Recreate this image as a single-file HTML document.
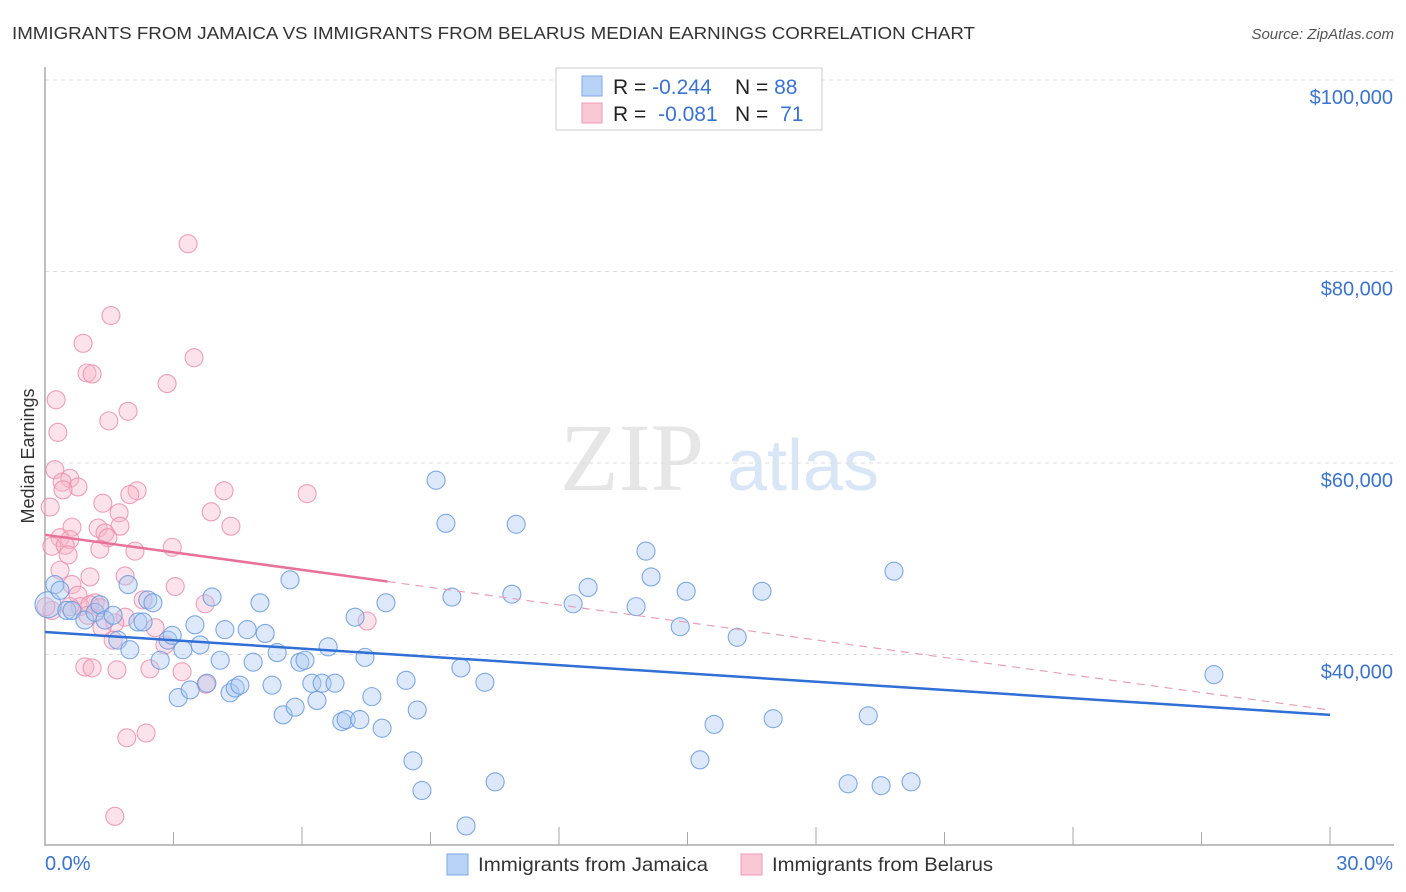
<!DOCTYPE html>
<html><head><meta charset="utf-8">
<style>
html,body{margin:0;padding:0;background:#fff;}
svg{display:block;font-family:"Liberation Sans",sans-serif;}
</style></head>
<body>
<svg id="chart" width="1406" height="892" viewBox="0 0 1406 892" xmlns="http://www.w3.org/2000/svg">
<text x="12" y="39" font-size="17.5" fill="#333" textLength="963" lengthAdjust="spacingAndGlyphs">IMMIGRANTS FROM JAMAICA VS IMMIGRANTS FROM BELARUS MEDIAN EARNINGS CORRELATION CHART</text>
<text x="1394" y="39" font-size="15" fill="#555" font-style="italic" text-anchor="end">Source: ZipAtlas.com</text>
<g>
<text x="632" y="490" font-size="96" font-family="Liberation Serif, serif" fill="#e6e6e6" text-anchor="middle">ZIP</text>
<text x="803" y="490" font-size="72" fill="#d8e6f6" text-anchor="middle">atlas</text>
</g>
<g id="grid"></g>
<g id="axes"></g>
<text transform="translate(34,456) rotate(-90)" font-size="18" fill="#333" text-anchor="middle">Median Earnings</text>
<g id="marks"></g>
<g id="lines"></g>
<g>
<rect x="556" y="68" width="266" height="62" fill="#fff" stroke="#ccc"/>
<rect x="582" y="76" width="20" height="20" fill="#b9d3f6" stroke="#7fa8e6"/>
<rect x="582" y="103" width="20" height="20" fill="#f9c7d6" stroke="#ee9bb6"/>
<text x="613" y="94" font-size="21" fill="#222">R = <tspan fill="#3b73d1">-0.244</tspan><tspan x="735">N = </tspan><tspan fill="#3b73d1">88</tspan></text>
<text x="613" y="121" font-size="21" fill="#222">R = <tspan fill="#3b73d1" dx="6">-0.081</tspan><tspan x="735">N = </tspan><tspan fill="#3b73d1" dx="6">71</tspan></text>
</g>
<g>
<rect x="447" y="854" width="21" height="21" fill="#b9d3f6" stroke="#7fa8e6"/>
<text x="478" y="871" font-size="19.5" fill="#333" textLength="230" lengthAdjust="spacingAndGlyphs">Immigrants from Jamaica</text>
<rect x="741" y="854" width="21" height="21" fill="#f9c7d6" stroke="#ee9bb6"/>
<text x="772" y="871" font-size="19.5" fill="#333" textLength="221" lengthAdjust="spacingAndGlyphs">Immigrants from Belarus</text>
</g>
</svg>
<script>
const yTicks=[100000,80000,60000,40000];
const yTickLabels=["$100,000","$80,000","$60,000","$40,000"];
const xTicks=[0,3,6,9,12,15,18,21,24,27,30];
const xEndLabels=["0.0%","30.0%"];
const jamX=[0.07,0.23,0.35,0.51,0.63,0.93,1.17,1.28,1.40,1.59,1.70,1.94,1.98,2.17,2.29,2.40,2.52,2.69,2.87,2.97,3.11,3.22,3.39,3.50,3.62,3.78,3.90,4.09,4.20,4.32,4.44,4.55,4.72,4.86,5.02,5.14,5.30,5.42,5.56,5.72,5.84,5.95,6.07,6.23,6.35,6.47,6.61,6.77,6.93,7.03,7.24,7.35,7.47,7.63,7.87,7.96,8.43,8.59,8.69,8.80,9.13,9.36,9.50,9.71,9.83,10.27,10.51,10.90,11.00,12.33,12.68,13.80,14.03,14.15,14.83,14.97,15.29,15.62,16.16,16.74,17.00,18.75,19.22,19.52,19.82,20.22,27.29];
const jamY=[45.2,47.3,46.7,44.6,44.6,43.6,44.4,45.2,43.6,44.1,41.5,47.3,40.5,43.4,43.4,45.7,45.4,39.4,41.5,42.0,35.5,40.5,36.3,43.1,41.0,37.0,46.0,39.4,42.6,36.0,36.5,36.8,42.6,39.2,45.4,42.2,36.8,40.2,33.7,47.8,34.5,39.2,39.4,37.0,35.2,37.0,40.8,37.0,33.0,33.2,43.9,33.2,39.7,35.6,32.3,45.4,37.3,28.9,34.2,25.8,58.2,53.7,46.0,38.6,22.1,37.1,26.7,46.3,53.6,45.3,47.0,45.0,50.8,48.1,42.9,46.6,29.0,32.7,41.8,46.6,33.3,26.5,33.6,26.3,48.7,26.7,37.9];
const belX=[3.34,1.54,0.89,3.48,0.98,1.10,2.85,0.26,1.94,1.49,0.30,0.23,0.58,0.40,0.77,2.15,4.18,6.12,1.98,1.35,0.42,3.88,1.73,0.12,4.34,0.63,1.24,1.75,1.40,0.35,0.58,1.47,0.16,0.47,1.28,2.97,2.10,0.54,1.05,1.87,0.63,3.04,0.77,2.29,1.17,3.74,0.82,1.05,1.28,1.00,1.87,1.63,2.57,1.33,7.52,2.80,1.59,0.93,1.10,2.45,1.68,3.20,3.76,1.91,2.36,1.63,0.58,0.35,0.16,0.02];
const belY=[82.9,75.4,72.5,71.0,69.4,69.3,68.3,66.6,65.4,64.4,63.2,59.3,58.4,58.0,57.5,57.1,57.1,56.8,56.7,55.8,57.2,54.9,54.8,55.4,53.4,53.3,53.2,53.4,52.7,52.2,52.0,52.2,51.3,51.4,51.0,51.2,50.8,50.4,48.1,48.2,47.3,47.1,46.2,45.7,45.4,45.3,45.0,45.2,44.9,44.1,43.9,43.3,42.8,42.8,43.5,41.0,41.5,38.7,38.6,38.5,38.4,38.2,36.9,31.3,31.8,23.1,45.0,48.8,44.6,45.0];
const jamTrend=[42.35,33.7];
const belTrend=[52.5,34.2];
const belSolidEnd=[8.0];

const NS="http://www.w3.org/2000/svg";
const X0=45,X1=1330,Y100=80,PX20K=191.5;
function sx(p){return X0+(p/30)*(X1-X0);}
function sy(v){return Y100+(100000-v)/20000*PX20K;}
function mk(tag,attrs,parent){const e=document.createElementNS(NS,tag);for(const k in attrs)e.setAttribute(k,attrs[k]);parent.appendChild(e);return e;}
const grid=document.getElementById('grid'),axes=document.getElementById('axes'),marks=document.getElementById('marks'),lines=document.getElementById('lines');
yTicks.forEach((v,i)=>{
  const l=mk('line',{x1:45,x2:1394,y1:sy(v),y2:sy(v),stroke:'#ddd','stroke-dasharray':'4,4'},grid);
  
  
  const t=mk('text',{x:1393,y:sy(v)+24,'font-size':20,fill:'#3b73d1','text-anchor':'end'},axes);
  t.textContent=yTickLabels[i];
  
  
});
const ya=mk('line',{x1:45,x2:45,y1:67,y2:846,stroke:'#aaa','stroke-width':1.5},axes);


const xa=mk('line',{x1:45,x2:1394,y1:845,y2:845,stroke:'#aaa','stroke-width':1.5},axes);


xTicks.forEach((p,i)=>{
  const tk=mk('line',{x1:sx(p),x2:sx(p),y1:(i%2==0?827:832),y2:845,stroke:'#aaa'},axes);
  
  
});
const xl0=mk('text',{x:45,y:870,'font-size':20,fill:'#3b73d1'},axes);xl0.textContent=xEndLabels[0];


const xl1=mk('text',{x:1393,y:870,'font-size':20,fill:'#3b73d1','text-anchor':'end'},axes);xl1.textContent=xEndLabels[1];


function pts(xs,ys,fill,stroke,name){
  xs.forEach((x,i)=>{
    const c=mk('circle',{cx:sx(x),cy:sy(ys[i]*1000),r:(i===0&&name==='jamaica-point')?13:9,fill:fill,'fill-opacity':0.4,stroke:stroke,'stroke-width':1.1,'stroke-opacity':0.85},marks);
    
    
  });
}
pts(belX,belY,'#f7b7cb','#ea8fae','belarus-point');
pts(jamX,jamY,'#aac8f2','#6a9ade','jamaica-point');
const jl=mk('line',{x1:sx(0),y1:sy(jamTrend[0]*1000),x2:sx(30),y2:sy(jamTrend[1]*1000),stroke:'#2f6fd6','stroke-width':2.5},lines);


const bAt=p=>belTrend[0]+(belTrend[1]-belTrend[0])*p/30;
const bl=mk('line',{x1:sx(0),y1:sy(bAt(0)*1000),x2:sx(belSolidEnd[0]),y2:sy(bAt(belSolidEnd[0])*1000),stroke:'#e8719a','stroke-width':2.5},lines);


const bd=mk('line',{x1:sx(belSolidEnd[0]),y1:sy(bAt(belSolidEnd[0])*1000),x2:sx(30),y2:sy(bAt(30)*1000),stroke:'#e8a0b8','stroke-width':1.2,'stroke-dasharray':'8,6'},lines);


</script>
</body></html>
